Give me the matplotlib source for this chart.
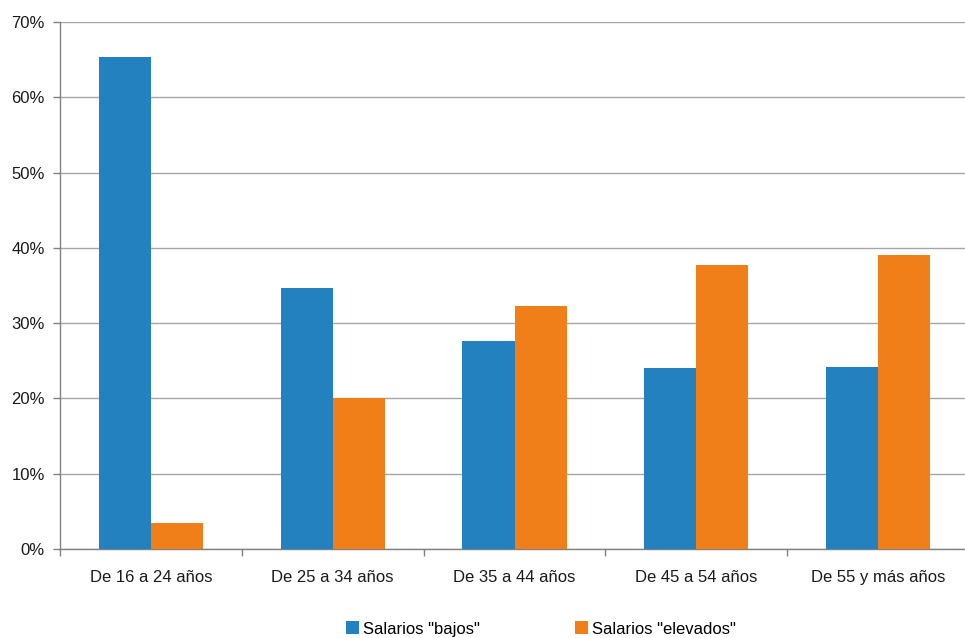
import matplotlib
matplotlib.use("Agg")
import matplotlib.pyplot as plt
import numpy as np

categories = ["De 16 a 24 años", "De 25 a 34 años", "De 35 a 44 años", "De 45 a 54 años", "De 55 y más años"]
bajos = [65.3, 34.7, 27.6, 24.0, 24.2]
elevados = [3.45, 20.05, 32.3, 37.7, 39.0]
series_names = ['Salarios "bajos"', 'Salarios "elevados"']
yticks = [0, 10, 20, 30, 40, 50, 60, 70]

fs = 12
plt.rcParams['font.family'] = ['Liberation Sans', 'DejaVu Sans']

fig = plt.figure(figsize=(9.65, 6.38), dpi=100)
ax = fig.add_axes([60/965, 1-549/638, 909/965, (549-22)/638])

x = np.arange(len(categories))
w = 0.287
blue = "#2381C0"
orange = "#F07F1A"
b1 = ax.bar(x - w/2, bajos, w, color=blue, label=series_names[0], zorder=3)
b2 = ax.bar(x + w/2, elevados, w, color=orange, label=series_names[1], zorder=3)

ax.set_xlim(-0.5, len(categories) - 0.5)
ax.set_ylim(0, 70)
ax.set_yticks(yticks)
ax.set_yticklabels([f"{v}%" for v in yticks], fontsize=fs, color="#1a1a1a")
ax.yaxis.grid(True, color="#a6a6a6", linewidth=1, zorder=0)
ax.set_axisbelow(True)

ax.set_xticks(x)
ax.set_xticklabels(categories, fontsize=fs, color="#1a1a1a")
ax.tick_params(axis='x', length=0, pad=15)
ax.set_xticks(np.arange(-0.5, len(categories) + 0.5, 1), minor=True)
ax.tick_params(axis='x', which='minor', length=5, color="#808080", width=1)
ax.tick_params(axis='y', length=5, color="#808080", width=1, pad=6)

for s in ["top", "right"]:
    ax.spines[s].set_visible(False)
for s in ["left", "bottom"]:
    ax.spines[s].set_color("#808080")
    ax.spines[s].set_linewidth(1)

fig.legend(handles=[b1, b2], labels=series_names, loc="center", ncol=2,
           bbox_to_anchor=(541/965, 1-629/638), frameon=False, fontsize=fs,
           handlelength=0.8, handleheight=0.8, handletextpad=0.25, columnspacing=5.7)

fig.savefig("out.png", dpi=100)
